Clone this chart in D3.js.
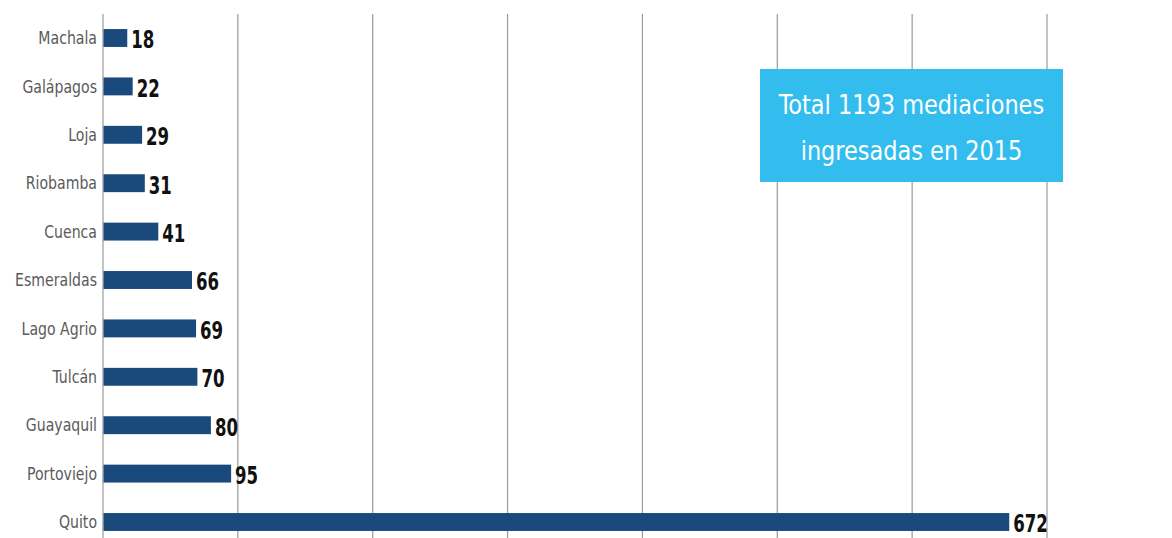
<!DOCTYPE html>
<html><head><meta charset="utf-8">
<script src="https://cdn.jsdelivr.net/npm/d3@7"></script>
<style>
html,body{margin:0;padding:0;background:#fff;}
svg{display:block;}
</style></head>
<body>
<svg id="chart" width="1172" height="538"></svg>
<script>
const categories = ["Machala","Galápagos","Loja","Riobamba","Cuenca","Esmeraldas","Lago Agrio","Tulcán","Guayaquil","Portoviejo","Quito"];
const values = [18,22,29,31,41,66,69,70,80,95,672];
const gridTicks = [0,100,200,300,400,500,600,700];
const boxLines = ["Total 1193 mediaciones","ingresadas en 2015"];

const condensed = "'Liberation Sans Narrow','DejaVu Sans Condensed','Roboto Condensed',sans-serif";
const svg = d3.select("#chart");
const x = d3.scaleLinear().domain([0,700]).range([103,1047]);
const y = d3.scaleBand().domain(categories).range([13.8,546.2]).paddingInner(0.63).paddingOuter(0.315);

// gridlines
svg.append("g").selectAll("line").data(gridTicks).join("line")
  .attr("x1",d=>x(d)).attr("x2",d=>x(d))
  .attr("y1",14).attr("y2",538)
  .attr("stroke","#9a9a9a").attr("stroke-width",1.2);

// bars
svg.append("g").selectAll("rect").data(values).join("rect")
  .attr("x",x(0)+0.5)
  .attr("y",(d,i)=>y(categories[i]))
  .attr("width",d=>x(d)-x(0)-0.5)
  .attr("height",y.bandwidth())
  .attr("fill","#1a4a7c");

// category labels
svg.append("g").selectAll("text").data(categories).join("text")
  .attr("transform",d=>`translate(97,${y(d)+y.bandwidth()/2}) scale(0.95,1.08)`)
  .attr("dy","0.35em")
  .attr("text-anchor","end")
  .attr("font-family",condensed)
  .attr("font-size",16.5)
  .attr("fill","#5a5a5a")
  .text(d=>d);

// value labels
svg.append("g").selectAll("text").data(values).join("text")
  .attr("transform",(d,i)=>`translate(${x(d)+4},${y(categories[i])+y.bandwidth()/2+2}) scale(0.8,1.05)`)
  .attr("dy","0.35em")
  .attr("font-family",condensed)
  .attr("font-weight","bold")
  .attr("font-size",23)
  .attr("fill","#111")
  .text(d=>d);

// annotation box
const bx=760, by=69, bw=303, bh=113;
svg.append("rect").attr("x",bx).attr("y",by).attr("width",bw).attr("height",bh).attr("fill","#33bdee");
svg.append("g").selectAll("text").data(boxLines).join("text")
  .attr("transform",(d,i)=>`translate(${bx+bw/2},${104+i*46}) scale(0.96,1.05)`)
  .attr("dy","0.35em")
  .attr("text-anchor","middle")
  .attr("font-family",condensed)
  .attr("font-size",26)
  .attr("fill","#fff")
  .text(d=>d);
</script>
</body></html>
